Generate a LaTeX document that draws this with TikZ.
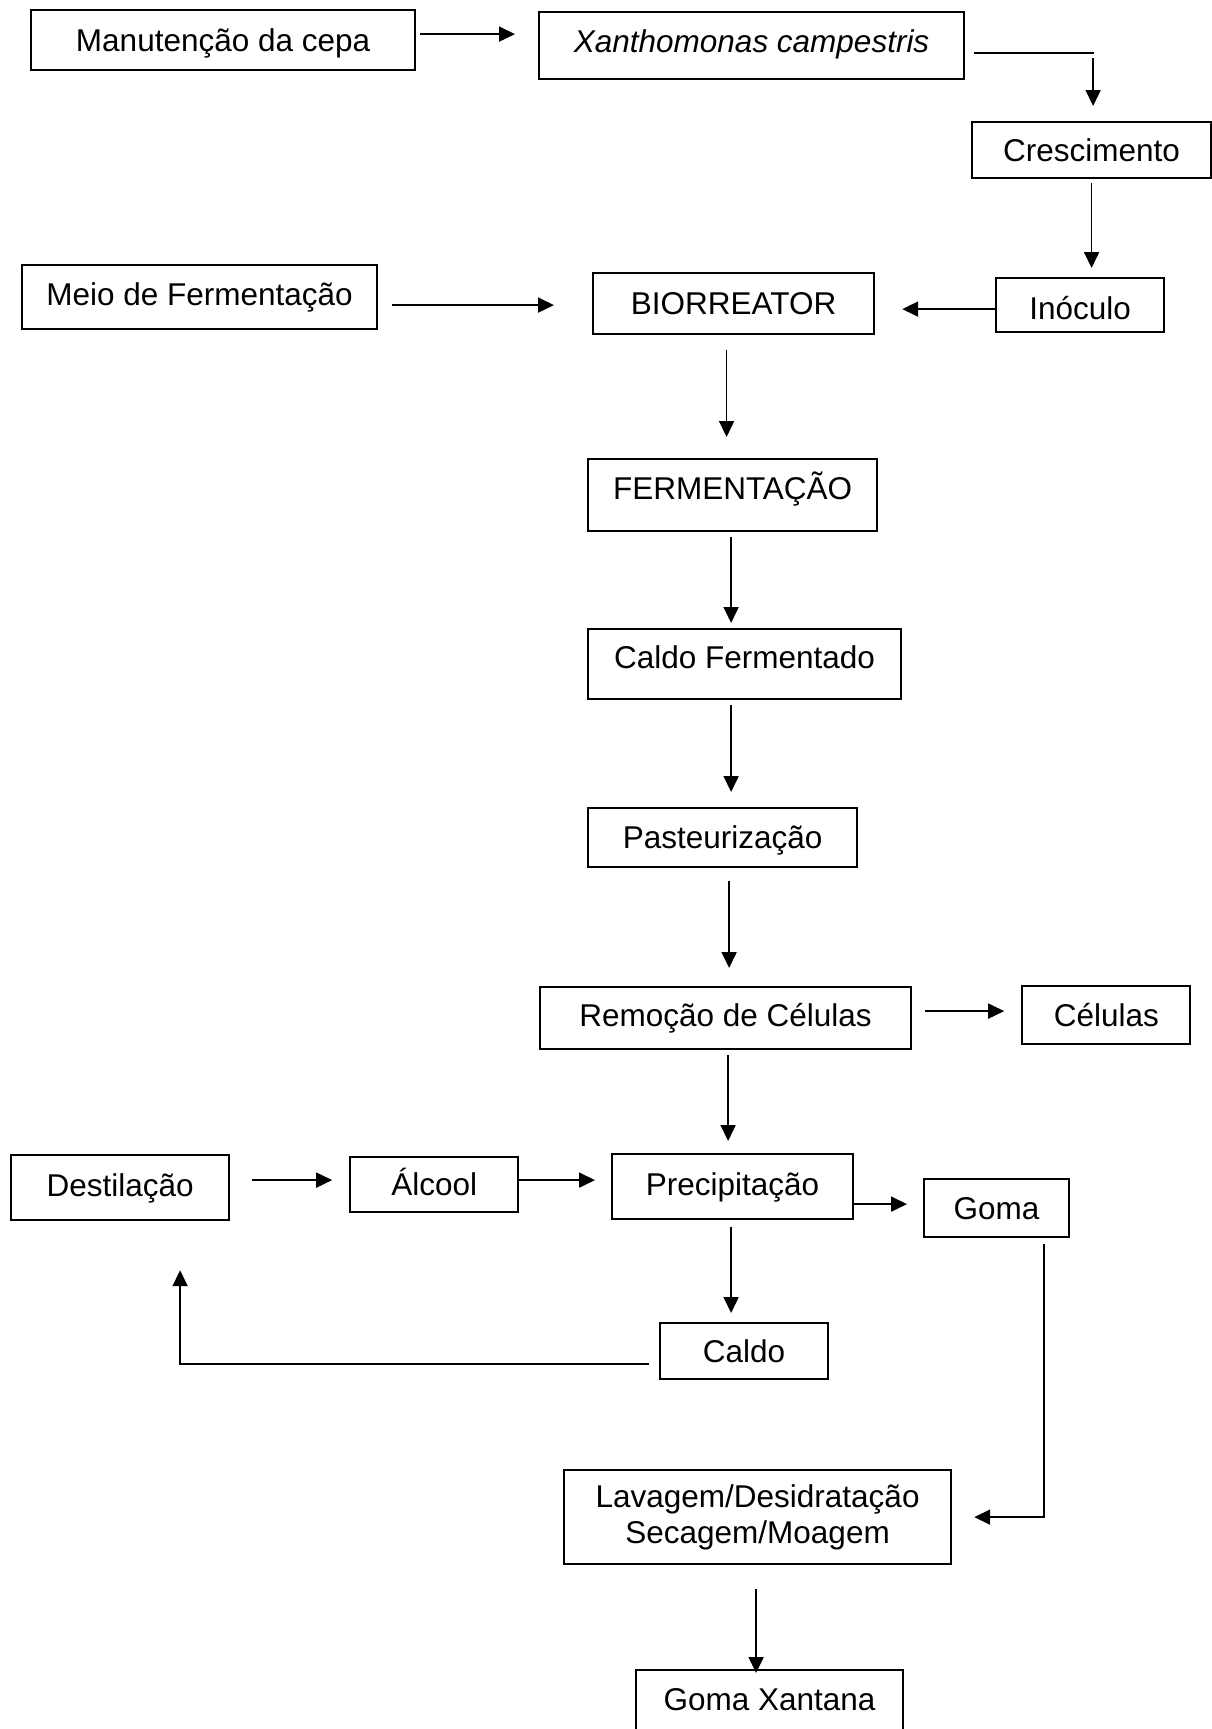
\documentclass[tikz,border=0pt]{standalone}
\usepackage{fontspec}
\setmainfont{Liberation Sans}
\usepackage{tikz}
\usetikzlibrary{positioning, arrows.meta}

\begin{document}
\begin{tikzpicture}[x=1pt, y=-1pt,
    caixa/.style={draw, line width=2.2pt, rectangle, inner sep=0pt, anchor=north west,
      text height=22.5pt, text depth=0pt, font=\fontsize{31.5}{36.5}\selectfont},
    seta/.style={line width=1.7pt, -{Triangle[length=16pt, width=15pt]}},
    linha/.style={line width=1.7pt}]

    \useasboundingbox (0,0) rectangle (1211,1729);

    \node[caixa, minimum width=384pt, minimum height=60pt] (manut) at (30,9) {Manutenção da cepa};
    \node[caixa, minimum width=425pt, minimum height=67pt, text depth=8pt] (xanth) at (538,11) {\textit{Xanthomonas campestris}};
    \node[caixa, minimum width=239pt, minimum height=56pt] (cresc) at (971,121) {Crescimento};
    \node[caixa, minimum width=355pt, minimum height=64pt, text depth=5pt] (meio) at (21,264) {Meio de Fermentação};
    \node[caixa, minimum width=281pt, minimum height=61pt] (bio) at (592,272) {BIORREATOR};
    \node[caixa, minimum width=168pt, minimum height=54pt, text height=28.5pt] (inoc) at (995,277) {Inóculo};
    \node[caixa, minimum width=289pt, minimum height=72pt, text depth=14pt] (ferm) at (587,458) {FERMENTAÇÃO};
    \node[caixa, minimum width=313pt, minimum height=70pt, text depth=13pt] (caldof) at (587,628) {Caldo Fermentado};
    \node[caixa, minimum width=269pt, minimum height=59pt] (past) at (587,807) {Pasteurização};
    \node[caixa, minimum width=371pt, minimum height=62pt, text depth=6pt] (remoc) at (539,986) {Remoção de Células};
    \node[caixa, minimum width=168pt, minimum height=58pt, right=109pt of remoc, yshift=3pt] (cel) {Células};
    \node[caixa, minimum width=218pt, minimum height=65pt, text depth=4pt] (destil) at (10,1154) {Destilação};
    \node[caixa, minimum width=168pt, minimum height=55pt, right=119pt of destil, yshift=3pt] (alcool) {Álcool};
    \node[caixa, minimum width=241pt, minimum height=65pt, text depth=4pt] (precip) at (611,1153) {Precipitação};
    \node[caixa, minimum width=145pt, minimum height=58pt] (goma) at (923,1178) {Goma};
    \node[caixa, minimum width=168pt, minimum height=56pt] (caldo) at (659,1322) {Caldo};
    \node[caixa, minimum width=387pt, minimum height=94pt, text height=, text depth=, align=center] (lavag) at (563,1469) {Lavagem/Desidratação\\Secagem/Moagem};
    \node[caixa, minimum width=267pt, minimum height=64pt, text depth=6pt] (gomax) at (635,1669) {Goma Xantana};

    \draw[seta] ([xshift=4pt,yshift=6pt]manut.east) -- ([xshift=-23pt,yshift=6pt]manut.east -| xanth.west);
    \draw[linha] ([xshift=9pt,yshift=-7.5pt]xanth.east) -- ([xshift=2.5pt,yshift=-7.5pt]xanth.east -| cresc.north);
    \draw[seta] ([xshift=1.5pt,yshift=63pt]cresc.north) -- ([xshift=1.5pt,yshift=15pt]cresc.north);
    \draw[seta] ([yshift=-4pt]cresc.south) -- ([yshift=9pt]cresc.south |- inoc.north);
    \draw[seta] ([xshift=1pt,yshift=-4pt]inoc.west) -- ([xshift=27pt,yshift=-4pt]inoc.west -| bio.east);
    \draw[seta] ([xshift=14pt,yshift=-8pt]meio.east) -- ([xshift=-38pt,yshift=-8pt]meio.east -| bio.west);
    \draw[seta] ([xshift=-7pt,yshift=-15pt]bio.south) -- ([xshift=-7pt,yshift=21pt]bio.south |- ferm.north);
    \draw[seta] ([xshift=-1.5pt,yshift=-5pt]ferm.south) -- ([xshift=-1.5pt,yshift=5pt]ferm.south |- caldof.north);
    \draw[seta] ([xshift=-13.5pt,yshift=-5pt]caldof.south) -- ([xshift=-13.5pt,yshift=15pt]caldof.south |- past.north);
    \draw[seta] ([xshift=6.5pt,yshift=-13pt]past.south) -- ([xshift=6.5pt,yshift=18pt]past.south |- remoc.north);
    \draw[seta] ([xshift=13pt,yshift=7pt]remoc.east) -- ([xshift=-17pt,yshift=7pt]remoc.east -| cel.west);
    \draw[seta] ([xshift=2.5pt,yshift=-5pt]remoc.south) -- ([xshift=2.5pt,yshift=12pt]remoc.south |- precip.north);
    \draw[seta] ([xshift=22pt,yshift=7.5pt]destil.east) -- ([xshift=-17pt,yshift=7.5pt]destil.east -| alcool.west);
    \draw[seta] ([yshift=4.5pt]alcool.east) -- ([xshift=-16pt,yshift=4.5pt]alcool.east -| precip.west);
    \draw[seta] ([yshift=-17.5pt]precip.east) -- ([xshift=-16pt,yshift=-17.5pt]precip.east -| goma.west);
    \draw[seta] ([xshift=-1.5pt,yshift=-7pt]precip.south) -- ([xshift=-1.5pt,yshift=9pt]precip.south |- caldo.north);
    \draw[seta] ([xshift=-10pt,yshift=-13pt]caldo.west) -| ([xshift=60pt,yshift=-49pt]destil.south);
    \draw[seta] ([xshift=47.5pt,yshift=-6pt]goma.south) |- ([xshift=22pt]lavag.east);
    \draw[seta] ([xshift=-1.5pt,yshift=-24pt]lavag.south) -- ([xshift=-1.5pt,yshift=-4pt]lavag.south |- gomax.north);
\end{tikzpicture}
\end{document}
